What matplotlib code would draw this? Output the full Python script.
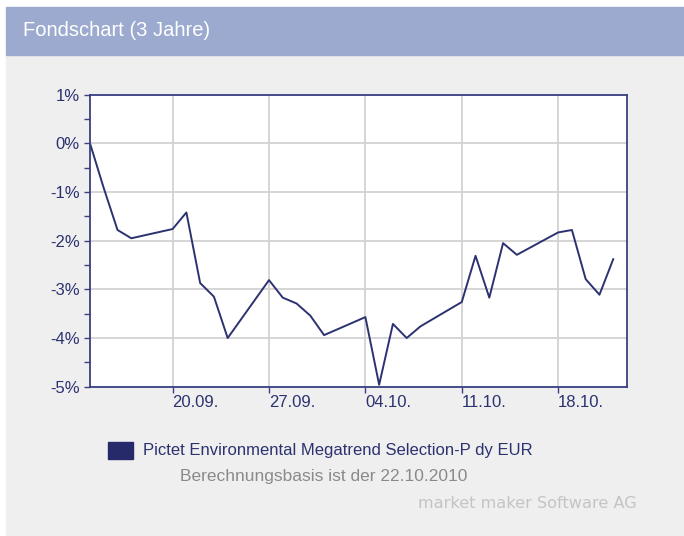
import matplotlib
matplotlib.use('Agg')
import matplotlib.pyplot as plt
import pandas as pd
from matplotlib.patches import Rectangle
from matplotlib.ticker import MultipleLocator, FuncFormatter

# daily performance (in %) relative to start, trading days only
dates = ['2010-09-14', '2010-09-15', '2010-09-16', '2010-09-17',
         '2010-09-20', '2010-09-21', '2010-09-22', '2010-09-23', '2010-09-24',
         '2010-09-27', '2010-09-28', '2010-09-29', '2010-09-30', '2010-10-01',
         '2010-10-04', '2010-10-05', '2010-10-06', '2010-10-07', '2010-10-08',
         '2010-10-11', '2010-10-12', '2010-10-13', '2010-10-14', '2010-10-15',
         '2010-10-18', '2010-10-19', '2010-10-20', '2010-10-21', '2010-10-22']
perf = [0.0, -0.92, -1.78, -1.95,
        -1.76, -1.42, -2.87, -3.15, -4.0,
        -2.81, -3.17, -3.29, -3.54, -3.94,
        -3.57, -4.96, -3.71, -4.0, -3.76,
        -3.26, -2.31, -3.17, -2.05, -2.29,
        -1.83, -1.78, -2.79, -3.11, -2.38]
tick_dates = ['2010-09-20', '2010-09-27', '2010-10-04', '2010-10-11', '2010-10-18']
tick_labels = ['20.09.', '27.09.', '04.10.', '11.10.', '18.10.']

navy = '#2c3270'
frame = '#3a4080'

plt.rcParams['font.family'] = ['Liberation Sans', 'DejaVu Sans']

fig = plt.figure(figsize=(6.84, 5.36), dpi=100)
fig.patch.set_facecolor('white')
# gray panel and header bar
fig.patches.append(Rectangle((6 / 684, 0), 1, 481 / 536, transform=fig.transFigure,
                             color='#efefef', zorder=-2))
fig.patches.append(Rectangle((6 / 684, 1 - 55 / 536), 1, 48 / 536, transform=fig.transFigure,
                             color='#9caacf', zorder=-1))
fig.text(23 / 684, 1 - 31 / 536, 'Fondschart (3 Jahre)', color='white', fontsize=14.5,
         va='center', ha='left')

ax = fig.add_axes([90 / 684, 1 - 386.7 / 536, 537 / 684, 292 / 536])
ax.set_zorder(5)
ax.set_facecolor('white')
x = pd.to_datetime(dates)
ax.plot(x, perf, color=navy, lw=1.4, zorder=3)

ax.set_xlim(pd.Timestamp('2010-09-14'), pd.Timestamp('2010-10-23'))
ax.set_ylim(-5, 1)
ax.yaxis.set_major_locator(MultipleLocator(1))
ax.yaxis.set_minor_locator(MultipleLocator(0.5))
ax.yaxis.set_major_formatter(FuncFormatter(lambda v, p: '{:.0f}%'.format(v) if v != 0 else '0%'))
ax.set_xticks(pd.to_datetime(tick_dates))
ax.set_xticklabels(tick_labels, ha='left')

ax.grid(True, which='major', color='#d2d2d2', lw=1.3, zorder=1)
for s in ax.spines.values():
    s.set_color(frame)
    s.set_linewidth(1.3)
    s.set_zorder(4)
ax.tick_params(axis='both', which='both', colors=frame, labelcolor=navy,
               labelsize=12, length=4.5, width=1.0, direction='out')
ax.tick_params(axis='y', pad=3)
ax.tick_params(axis='x', pad=1.5)

# legend
fig.patches.append(Rectangle((108 / 684, 1 - 459 / 536), 25 / 684, 17 / 536,
                             transform=fig.transFigure, color='#262a6b', zorder=2))
fig.text(143 / 684, 1 - 451 / 536, 'Pictet Environmental Megatrend Selection-P dy EUR',
         color=navy, fontsize=12, va='center', ha='left')
fig.text(180 / 684, 1 - 476.5 / 536, 'Berechnungsbasis ist der 22.10.2010',
         color='#8a8a8a', fontsize=12.5, va='center', ha='left')
fig.text(637 / 684, 1 - 503 / 536, 'market maker Software AG',
         color='#c4c4c4', fontsize=11.6, va='center', ha='right', family='DejaVu Sans')

fig.savefig('out.png', dpi=100, facecolor=fig.get_facecolor())
